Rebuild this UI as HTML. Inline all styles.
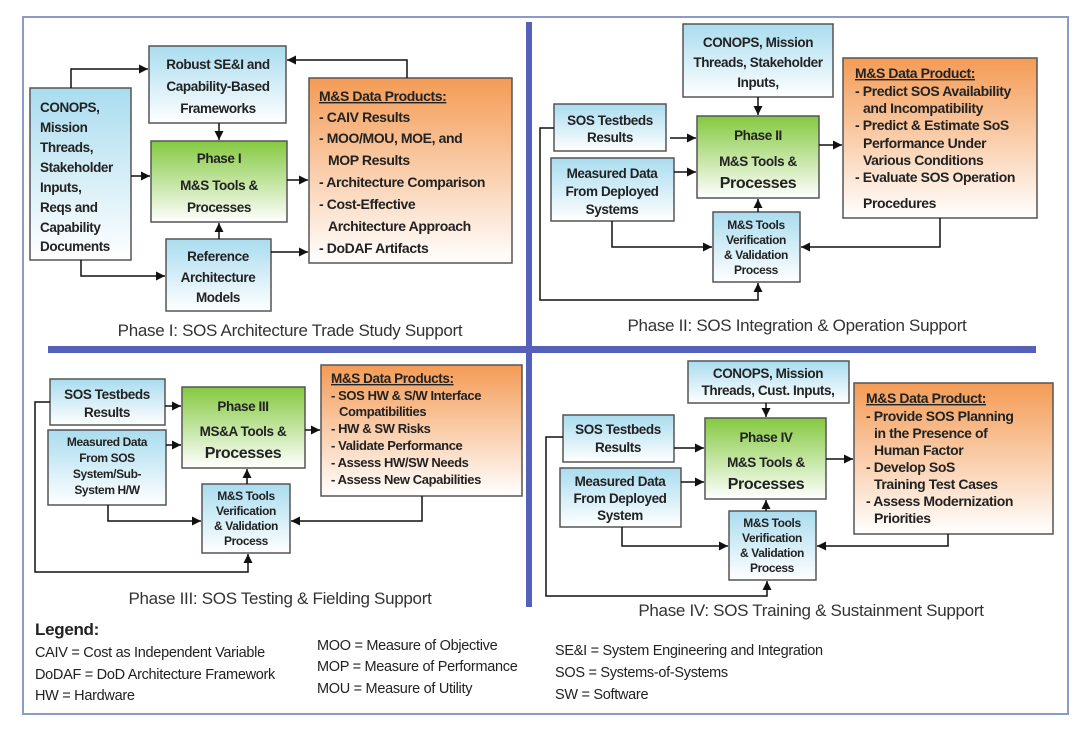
<!DOCTYPE html>
<html><head><meta charset="utf-8"><style>
html,body{margin:0;padding:0;background:#fff}
svg{display:block}
text{font-family:"Liberation Sans",Arial,sans-serif}
.b{font-weight:bold;font-size:13.5px;fill:#222;letter-spacing:-0.4px}
.bl{font-weight:bold;font-size:16px;fill:#222;letter-spacing:-0.4px}
.o{font-weight:bold;font-size:14px;fill:#222;letter-spacing:-0.4px}
.s{font-weight:bold;font-size:12px;fill:#222;letter-spacing:-0.4px}
.cap{font-size:17px;fill:#333;letter-spacing:-0.3px}
.lg{font-size:14.5px;fill:#222;letter-spacing:-0.3px}
.box{stroke:#555;stroke-width:1.5}
.ln{stroke:#111;stroke-width:1.5;fill:none}
</style></head><body>
<svg width="1080" height="732" viewBox="0 0 1080 732" xmlns="http://www.w3.org/2000/svg">
<defs>
<linearGradient id="bl" x1="0" y1="0" x2="0" y2="1"><stop offset="0" stop-color="#a9dcef"/><stop offset="1" stop-color="#ffffff"/></linearGradient>
<linearGradient id="gr" x1="0" y1="0" x2="0" y2="1"><stop offset="0" stop-color="#84c940"/><stop offset="1" stop-color="#ffffff"/></linearGradient>
<linearGradient id="or" x1="0" y1="0" x2="0" y2="1"><stop offset="0" stop-color="#f49b55"/><stop offset="1" stop-color="#ffffff"/></linearGradient>
<marker id="a" viewBox="0 0 10 10" refX="10" refY="5" markerWidth="6" markerHeight="6" orient="auto"><path d="M0,0L10,5L0,10z" fill="#111"/></marker>
</defs>
<rect x="23" y="17" width="1045" height="697" fill="#fff" stroke="#8a9bc4" stroke-width="2"/>
<rect x="526" y="22" width="6" height="585" fill="#5560b8"/>
<rect x="48" y="346" width="988" height="7" fill="#5560b8"/>

<!-- Phase I -->
<g>
<rect class="box" x="30" y="88" width="101" height="172" fill="url(#bl)"/>
<text class="b"><tspan x="40" y="112">CONOPS,</tspan><tspan x="40" y="132">Mission</tspan><tspan x="40" y="152">Threads,</tspan><tspan x="40" y="172">Stakeholder</tspan><tspan x="40" y="192">Inputs,</tspan><tspan x="40" y="212">Reqs and</tspan><tspan x="40" y="232">Capability</tspan><tspan x="40" y="251">Documents</tspan></text>
<rect class="box" x="149" y="46" width="137" height="77" fill="url(#bl)"/>
<text class="b" text-anchor="middle"><tspan x="218" y="69">Robust SE&amp;I and</tspan><tspan x="218" y="91">Capability-Based</tspan><tspan x="218" y="113">Frameworks</tspan></text>
<rect class="box" x="151" y="141" width="136" height="81" fill="url(#gr)"/>
<text class="b" text-anchor="middle"><tspan x="219" y="163">Phase I</tspan><tspan x="219" y="190">M&amp;S Tools &amp;</tspan><tspan x="219" y="212">Processes</tspan></text>
<rect class="box" x="166" y="239" width="105" height="72" fill="url(#bl)"/>
<text class="b" text-anchor="middle"><tspan x="218" y="261">Reference</tspan><tspan x="218" y="282">Architecture</tspan><tspan x="218" y="302">Models</tspan></text>
<rect class="box" x="309" y="78" width="203" height="185" fill="url(#or)"/>
<text class="o"><tspan x="319" y="101" text-decoration="underline">M&amp;S Data Products:</tspan><tspan x="319" y="122">- CAIV Results</tspan><tspan x="319" y="143">- MOO/MOU, MOE, and</tspan><tspan x="328" y="165">MOP Results</tspan><tspan x="319" y="187">- Architecture Comparison</tspan><tspan x="319" y="209">- Cost-Effective</tspan><tspan x="328" y="231">Architecture Approach</tspan><tspan x="319" y="253">- DoDAF Artifacts</tspan></text>
<path class="ln" d="M71,88V69H148" marker-end="url(#a)"/>
<path class="ln" d="M407,78V60H287" marker-end="url(#a)"/>
<path class="ln" d="M219,123V140" marker-end="url(#a)"/>
<path class="ln" d="M131,176H150" marker-end="url(#a)"/>
<path class="ln" d="M287,180H308" marker-end="url(#a)"/>
<path class="ln" d="M219,239V223" marker-end="url(#a)"/>
<path class="ln" d="M271,252H308" marker-end="url(#a)"/>
<path class="ln" d="M81,260V276H165" marker-end="url(#a)"/>
<text class="cap" x="290" y="336" text-anchor="middle">Phase I: SOS Architecture Trade Study Support</text>
</g>

<!-- Phase II -->
<g>
<rect class="box" x="683" y="24" width="150" height="73" fill="url(#bl)"/>
<text class="b" text-anchor="middle"><tspan x="758" y="47">CONOPS, Mission</tspan><tspan x="758" y="67">Threads, Stakeholder</tspan><tspan x="758" y="87">Inputs,</tspan></text>
<rect class="box" x="554" y="104" width="112" height="47" fill="url(#bl)"/>
<text class="b" text-anchor="middle"><tspan x="610" y="125">SOS Testbeds</tspan><tspan x="610" y="142">Results</tspan></text>
<rect class="box" x="551" y="158" width="123" height="63" fill="url(#bl)"/>
<text class="b" text-anchor="middle"><tspan x="612" y="178">Measured Data</tspan><tspan x="612" y="196">From Deployed</tspan><tspan x="612" y="214">Systems</tspan></text>
<rect class="box" x="697" y="116" width="122" height="82" fill="url(#gr)"/>
<text text-anchor="middle"><tspan class="b" x="758" y="140">Phase II</tspan><tspan class="b" x="758" y="166">M&amp;S Tools &amp;</tspan><tspan class="bl" x="758" y="188">Processes</tspan></text>
<rect class="box" x="713" y="212" width="87" height="70" fill="url(#bl)"/>
<text class="s" text-anchor="middle"><tspan x="756" y="229">M&amp;S Tools</tspan><tspan x="756" y="244">Verification</tspan><tspan x="756" y="259">&amp; Validation</tspan><tspan x="756" y="274">Process</tspan></text>
<rect class="box" x="843" y="58" width="194" height="160" fill="url(#or)"/>
<text class="o"><tspan x="855" y="78" text-decoration="underline">M&amp;S Data Product:</tspan><tspan x="855" y="96">- Predict SOS Availability</tspan><tspan x="863" y="113">and Incompatibility</tspan><tspan x="855" y="130">- Predict &amp; Estimate SoS</tspan><tspan x="863" y="148">Performance Under</tspan><tspan x="863" y="165">Various Conditions</tspan><tspan x="855" y="182">- Evaluate SOS Operation</tspan><tspan x="863" y="208">Procedures</tspan></text>
<path class="ln" d="M758,97V115" marker-end="url(#a)"/>
<path class="ln" d="M670,138H696" marker-end="url(#a)"/>
<path class="ln" d="M674,172H696" marker-end="url(#a)"/>
<path class="ln" d="M819,145H842" marker-end="url(#a)"/>
<path class="ln" d="M758,212V199" marker-end="url(#a)"/>
<path class="ln" d="M612,221V247H712" marker-end="url(#a)"/>
<path class="ln" d="M940,218V247H801" marker-end="url(#a)"/>
<path class="ln" d="M554,128H540V300H758V283" marker-end="url(#a)"/>
<text class="cap" x="797" y="331" text-anchor="middle">Phase II: SOS Integration &amp; Operation  Support</text>
</g>

<!-- Phase III -->
<g>
<rect class="box" x="50" y="379" width="115" height="46" fill="url(#bl)"/>
<text class="b" text-anchor="middle"><tspan x="107" y="399">SOS Testbeds</tspan><tspan x="107" y="417">Results</tspan></text>
<rect class="box" x="48" y="430" width="118" height="75" fill="url(#bl)"/>
<text class="s" text-anchor="middle"><tspan x="107" y="446">Measured Data</tspan><tspan x="107" y="462">From SOS</tspan><tspan x="107" y="478">System/Sub-</tspan><tspan x="107" y="494">System H/W</tspan></text>
<rect class="box" x="182" y="387" width="123" height="81" fill="url(#gr)"/>
<text text-anchor="middle"><tspan class="b" x="243" y="411">Phase III</tspan><tspan class="b" x="243" y="436">MS&amp;A Tools &amp;</tspan><tspan class="bl" x="243" y="458">Processes</tspan></text>
<rect class="box" x="202" y="484" width="88" height="69" fill="url(#bl)"/>
<text class="s" text-anchor="middle"><tspan x="246" y="500">M&amp;S Tools</tspan><tspan x="246" y="515">Verification</tspan><tspan x="246" y="530">&amp; Validation</tspan><tspan x="246" y="545">Process</tspan></text>
<rect class="box" x="321" y="365" width="201" height="131" fill="url(#or)"/>
<text class="s"><tspan x="331" y="383" text-decoration="underline" style="font-size:13.5px">M&amp;S Data Products:</tspan><tspan x="331" y="400" style="font-size:13px">- SOS HW &amp; S/W Interface</tspan><tspan x="339" y="416" style="font-size:13px">Compatibilities</tspan><tspan x="331" y="433" style="font-size:13px">- HW &amp; SW Risks</tspan><tspan x="331" y="450" style="font-size:13px">- Validate Performance</tspan><tspan x="331" y="467" style="font-size:13px">- Assess HW/SW Needs</tspan><tspan x="331" y="484" style="font-size:13px">- Assess New Capabilities</tspan></text>
<path class="ln" d="M165,406H181" marker-end="url(#a)"/>
<path class="ln" d="M166,445H181" marker-end="url(#a)"/>
<path class="ln" d="M305,430H320" marker-end="url(#a)"/>
<path class="ln" d="M247,484V469" marker-end="url(#a)"/>
<path class="ln" d="M108,505V521H201" marker-end="url(#a)"/>
<path class="ln" d="M422,496V521H291" marker-end="url(#a)"/>
<path class="ln" d="M50,402H35V572H248V554" marker-end="url(#a)"/>
<text class="cap" x="280" y="604" text-anchor="middle">Phase III: SOS Testing &amp; Fielding  Support</text>
</g>

<!-- Phase IV -->
<g>
<rect class="box" x="688" y="361" width="161" height="42" fill="url(#bl)"/>
<text class="b" text-anchor="middle"><tspan x="768" y="378">CONOPS, Mission</tspan><tspan x="768" y="395">Threads, Cust. Inputs,</tspan></text>
<rect class="box" x="563" y="415" width="111" height="47" fill="url(#bl)"/>
<text class="b" text-anchor="middle"><tspan x="618" y="434">SOS Testbeds</tspan><tspan x="618" y="452">Results</tspan></text>
<rect class="box" x="560" y="468" width="121" height="59" fill="url(#bl)"/>
<text class="b" text-anchor="middle"><tspan x="620" y="486">Measured Data</tspan><tspan x="620" y="503">From Deployed</tspan><tspan x="620" y="520">System</tspan></text>
<rect class="box" x="705" y="418" width="121" height="81" fill="url(#gr)"/>
<text text-anchor="middle"><tspan class="b" x="766" y="442">Phase IV</tspan><tspan class="b" x="766" y="467">M&amp;S Tools &amp;</tspan><tspan class="bl" x="766" y="489">Processes</tspan></text>
<rect class="box" x="729" y="511" width="87" height="69" fill="url(#bl)"/>
<text class="s" text-anchor="middle"><tspan x="772" y="527">M&amp;S Tools</tspan><tspan x="772" y="542">Verification</tspan><tspan x="772" y="557">&amp; Validation</tspan><tspan x="772" y="572">Process</tspan></text>
<rect class="box" x="854" y="383" width="199" height="151" fill="url(#or)"/>
<text class="o"><tspan x="866" y="403" text-decoration="underline">M&amp;S Data Product:</tspan><tspan x="866" y="421">- Provide SOS Planning</tspan><tspan x="874" y="438">in the Presence of</tspan><tspan x="874" y="455">Human Factor</tspan><tspan x="866" y="472">- Develop SoS</tspan><tspan x="874" y="489">Training Test Cases</tspan><tspan x="866" y="506">- Assess Modernization</tspan><tspan x="874" y="523">Priorities</tspan></text>
<path class="ln" d="M766,403V417" marker-end="url(#a)"/>
<path class="ln" d="M674,448H704" marker-end="url(#a)"/>
<path class="ln" d="M681,482H704" marker-end="url(#a)"/>
<path class="ln" d="M826,459H853" marker-end="url(#a)"/>
<path class="ln" d="M766,511V500" marker-end="url(#a)"/>
<path class="ln" d="M622,527V546H728" marker-end="url(#a)"/>
<path class="ln" d="M948,534V546H817" marker-end="url(#a)"/>
<path class="ln" d="M563,437H546V596H767V581" marker-end="url(#a)"/>
<text class="cap" x="811" y="616" text-anchor="middle">Phase IV: SOS Training &amp; Sustainment  Support</text>
</g>

<!-- Legend -->
<text x="35" y="635" style="font-size:17px;font-weight:bold;fill:#222;letter-spacing:-0.3px">Legend:</text>
<text class="lg"><tspan x="35" y="657">CAIV = Cost as Independent Variable</tspan><tspan x="35" y="679">DoDAF = DoD Architecture Framework</tspan><tspan x="35" y="700">HW = Hardware</tspan></text>
<text class="lg"><tspan x="317" y="650">MOO = Measure of Objective</tspan><tspan x="317" y="671">MOP = Measure of Performance</tspan><tspan x="317" y="693">MOU = Measure of Utility</tspan></text>
<text class="lg"><tspan x="555" y="655">SE&amp;I = System Engineering and Integration</tspan><tspan x="555" y="677">SOS = Systems-of-Systems</tspan><tspan x="555" y="699">SW = Software</tspan></text>
</svg>
</body></html>
